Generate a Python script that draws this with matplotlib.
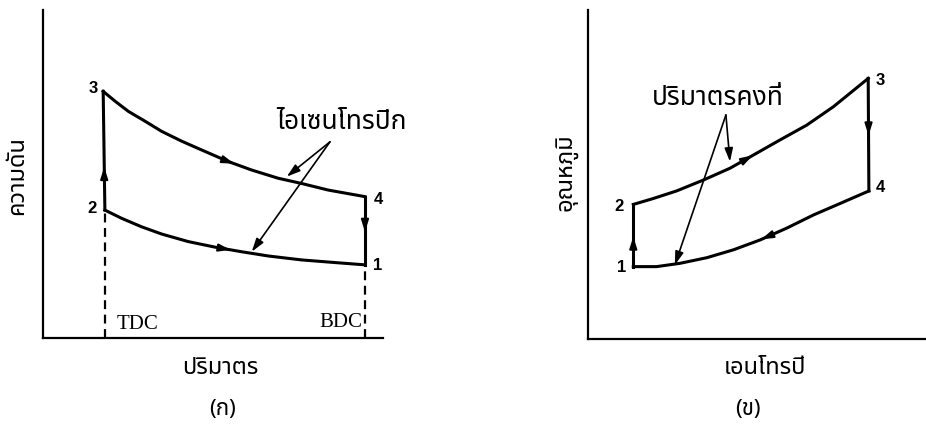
import numpy as np
import matplotlib
matplotlib.use("Agg")
import matplotlib.pyplot as plt

plt.rcParams['font.family'] = ['Noto Sans Thai', 'DejaVu Sans']

# (a) pressure - volume, arbitrary units 0..10
pv_top_v = [1.77, 2.12, 2.51, 3.00, 3.49, 4.08, 4.76, 5.45, 6.14, 6.92, 7.61, 8.39, 9.47]
pv_top_p = [7.52, 7.22, 6.91, 6.61, 6.30, 6.00, 5.69, 5.38, 5.12, 4.87, 4.71, 4.51, 4.31]
pv_bot_v = [1.82, 2.31, 2.90, 3.49, 4.27, 5.06, 5.84, 6.63, 7.61, 8.59, 9.47]
pv_bot_p = [3.90, 3.65, 3.39, 3.17, 2.94, 2.77, 2.63, 2.50, 2.38, 2.30, 2.23]

# (b) temperature - entropy
ts_top_s = [1.34, 1.93, 2.62, 3.41, 4.20, 4.89, 5.68, 6.47, 7.26, 8.29]
ts_top_t = [4.09, 4.27, 4.50, 4.83, 5.19, 5.59, 6.05, 6.50, 7.06, 7.92]
ts_bot_s = [1.34, 2.03, 2.72, 3.51, 4.30, 5.09, 5.88, 6.67, 7.46, 8.31]
ts_bot_t = [2.20, 2.20, 2.30, 2.47, 2.71, 3.01, 3.37, 3.77, 4.12, 4.50]

fig = plt.figure(figsize=(9.26, 4.32), dpi=100)
ax1 = fig.add_axes([43/926, 94/432, 340/926, 328/432])
ax2 = fig.add_axes([588/926, 93/432, 338/926, 329/432])

for ax in (ax1, ax2):
    ax.set_xlim(0, 10)
    ax.set_ylim(0, 10)
    ax.set_xticks([])
    ax.set_yticks([])
    for s in ('top', 'right'):
        ax.spines[s].set_visible(False)
    for s in ('left', 'bottom'):
        ax.spines[s].set_linewidth(1.6)
        ax.spines[s].set_color('black')

head = '-|>,head_length=0.7,head_width=0.22'


def mid_arrow(ax, xs, ys, x0, reverse=False):
    # small filled arrowhead sitting on the line at x0
    dx = 0.25 if not reverse else -0.25
    y0 = np.interp(x0, xs, ys)
    y1 = np.interp(x0 + dx, xs, ys)
    ax.annotate('', xy=(x0 + dx, y1), xytext=(x0, y0),
                arrowprops=dict(arrowstyle=head, color='black', lw=1.5))


def vert_arrow(ax, x, y, up=True):
    d = 0.3 if up else -0.3
    ax.annotate('', xy=(x, y + d), xytext=(x, y),
                arrowprops=dict(arrowstyle=head, color='black', lw=1.5))


lw = 2.2
# ---- (a)
ax1.plot(pv_top_v, pv_top_p, color='black', lw=lw)
ax1.plot(pv_bot_v, pv_bot_p, color='black', lw=lw)
ax1.plot([pv_bot_v[0], pv_top_v[0]], [pv_bot_p[0], pv_top_p[0]], color='black', lw=lw)
ax1.plot([pv_top_v[-1], pv_bot_v[-1]], [pv_top_p[-1], pv_bot_p[-1]], color='black', lw=lw)
ax1.plot([pv_bot_v[0], pv_bot_v[0]], [0, pv_bot_p[0]], color='black', lw=1.6, ls=(0, (4, 2.5)))
ax1.plot([pv_bot_v[-1], pv_bot_v[-1]], [0, pv_bot_p[-1]], color='black', lw=1.6, ls=(0, (4, 2.5)))

mid_arrow(ax1, pv_top_v, pv_top_p, 5.45)
mid_arrow(ax1, pv_bot_v, pv_bot_p, 5.35)
vert_arrow(ax1, 1.80, 5.0, up=True)
vert_arrow(ax1, 9.47, 3.45, up=False)

num = dict(family='Liberation Sans', fontsize=12, fontweight='bold', ha='center', va='center')
ax1.text(1.47, 7.62, '3', **num)
ax1.text(1.44, 3.96, '2', **num)
ax1.text(9.85, 4.21, '4', **num)
ax1.text(9.85, 2.20, '1', **num)
ax1.text(2.18, 0.42, 'TDC', family='Liberation Serif', fontsize=15, ha='left', va='center')
ax1.text(9.38, 0.48, 'BDC', family='Liberation Serif', fontsize=15, ha='right', va='center')

ax1.text(8.79, 6.59, 'ไอเซนโทรปิก', fontsize=19, fontweight='medium', ha='center', va='center')
apr = dict(arrowstyle='-|>,head_length=0.8,head_width=0.25', color='black', lw=1.2,
           shrinkA=0, shrinkB=0)
ax1.annotate('', xy=(7.17, 4.92), xytext=(8.44, 5.98), arrowprops=apr)
ax1.annotate('', xy=(6.14, 2.63), xytext=(8.44, 5.98), arrowprops=apr)

# ---- (b)
ax2.plot(ts_top_s, ts_top_t, color='black', lw=lw)
ax2.plot(ts_bot_s, ts_bot_t, color='black', lw=lw)
ax2.plot([ts_bot_s[0], ts_top_s[0]], [ts_bot_t[0], ts_top_t[0]], color='black', lw=lw)
ax2.plot([ts_top_s[-1], ts_bot_s[-1]], [ts_top_t[-1], ts_bot_t[-1]], color='black', lw=lw)

mid_arrow(ax2, ts_top_s, ts_top_t, 4.7)
mid_arrow(ax2, ts_bot_s, ts_bot_t, 5.3, reverse=True)
vert_arrow(ax2, 1.34, 2.9, up=True)
vert_arrow(ax2, 8.30, 6.4, up=False)

ax2.text(1.0, 2.16, '1', **num)
ax2.text(0.92, 4.04, '2', **num)
ax2.text(8.64, 7.87, '3', **num)
ax2.text(8.64, 4.59, '4', **num)

ax2.text(3.85, 7.33, 'ปริมาตรคงที่', fontsize=19, fontweight='medium', ha='center', va='center')
ax2.annotate('', xy=(4.20, 5.39), xytext=(4.08, 6.81), arrowprops=apr)
ax2.annotate('', xy=(2.57, 2.25), xytext=(4.08, 6.81), arrowprops=apr)

# axis titles and panel captions
fig.text(17/926, 1 - 176/432, 'ความดัน', rotation=90, fontsize=17, fontweight='medium',
         ha='center', va='center')
fig.text(220/926, 1 - 368/432, 'ปริมาตร', fontsize=17, fontweight='medium', ha='center', va='center')
fig.text(222/926, 1 - 410/432, '(ก)', fontsize=16, ha='center', va='center')
fig.text(566/926, 1 - 172/432, 'อุณหภูมิ', rotation=90, fontsize=17, fontweight='medium',
         ha='center', va='center')
fig.text(765/926, 1 - 368/432, 'เอนโทรปี', fontsize=17, fontweight='medium', ha='center', va='center')
fig.text(748/926, 1 - 410/432, '(ข)', fontsize=16, ha='center', va='center')

fig.savefig('out.png', dpi=100)
